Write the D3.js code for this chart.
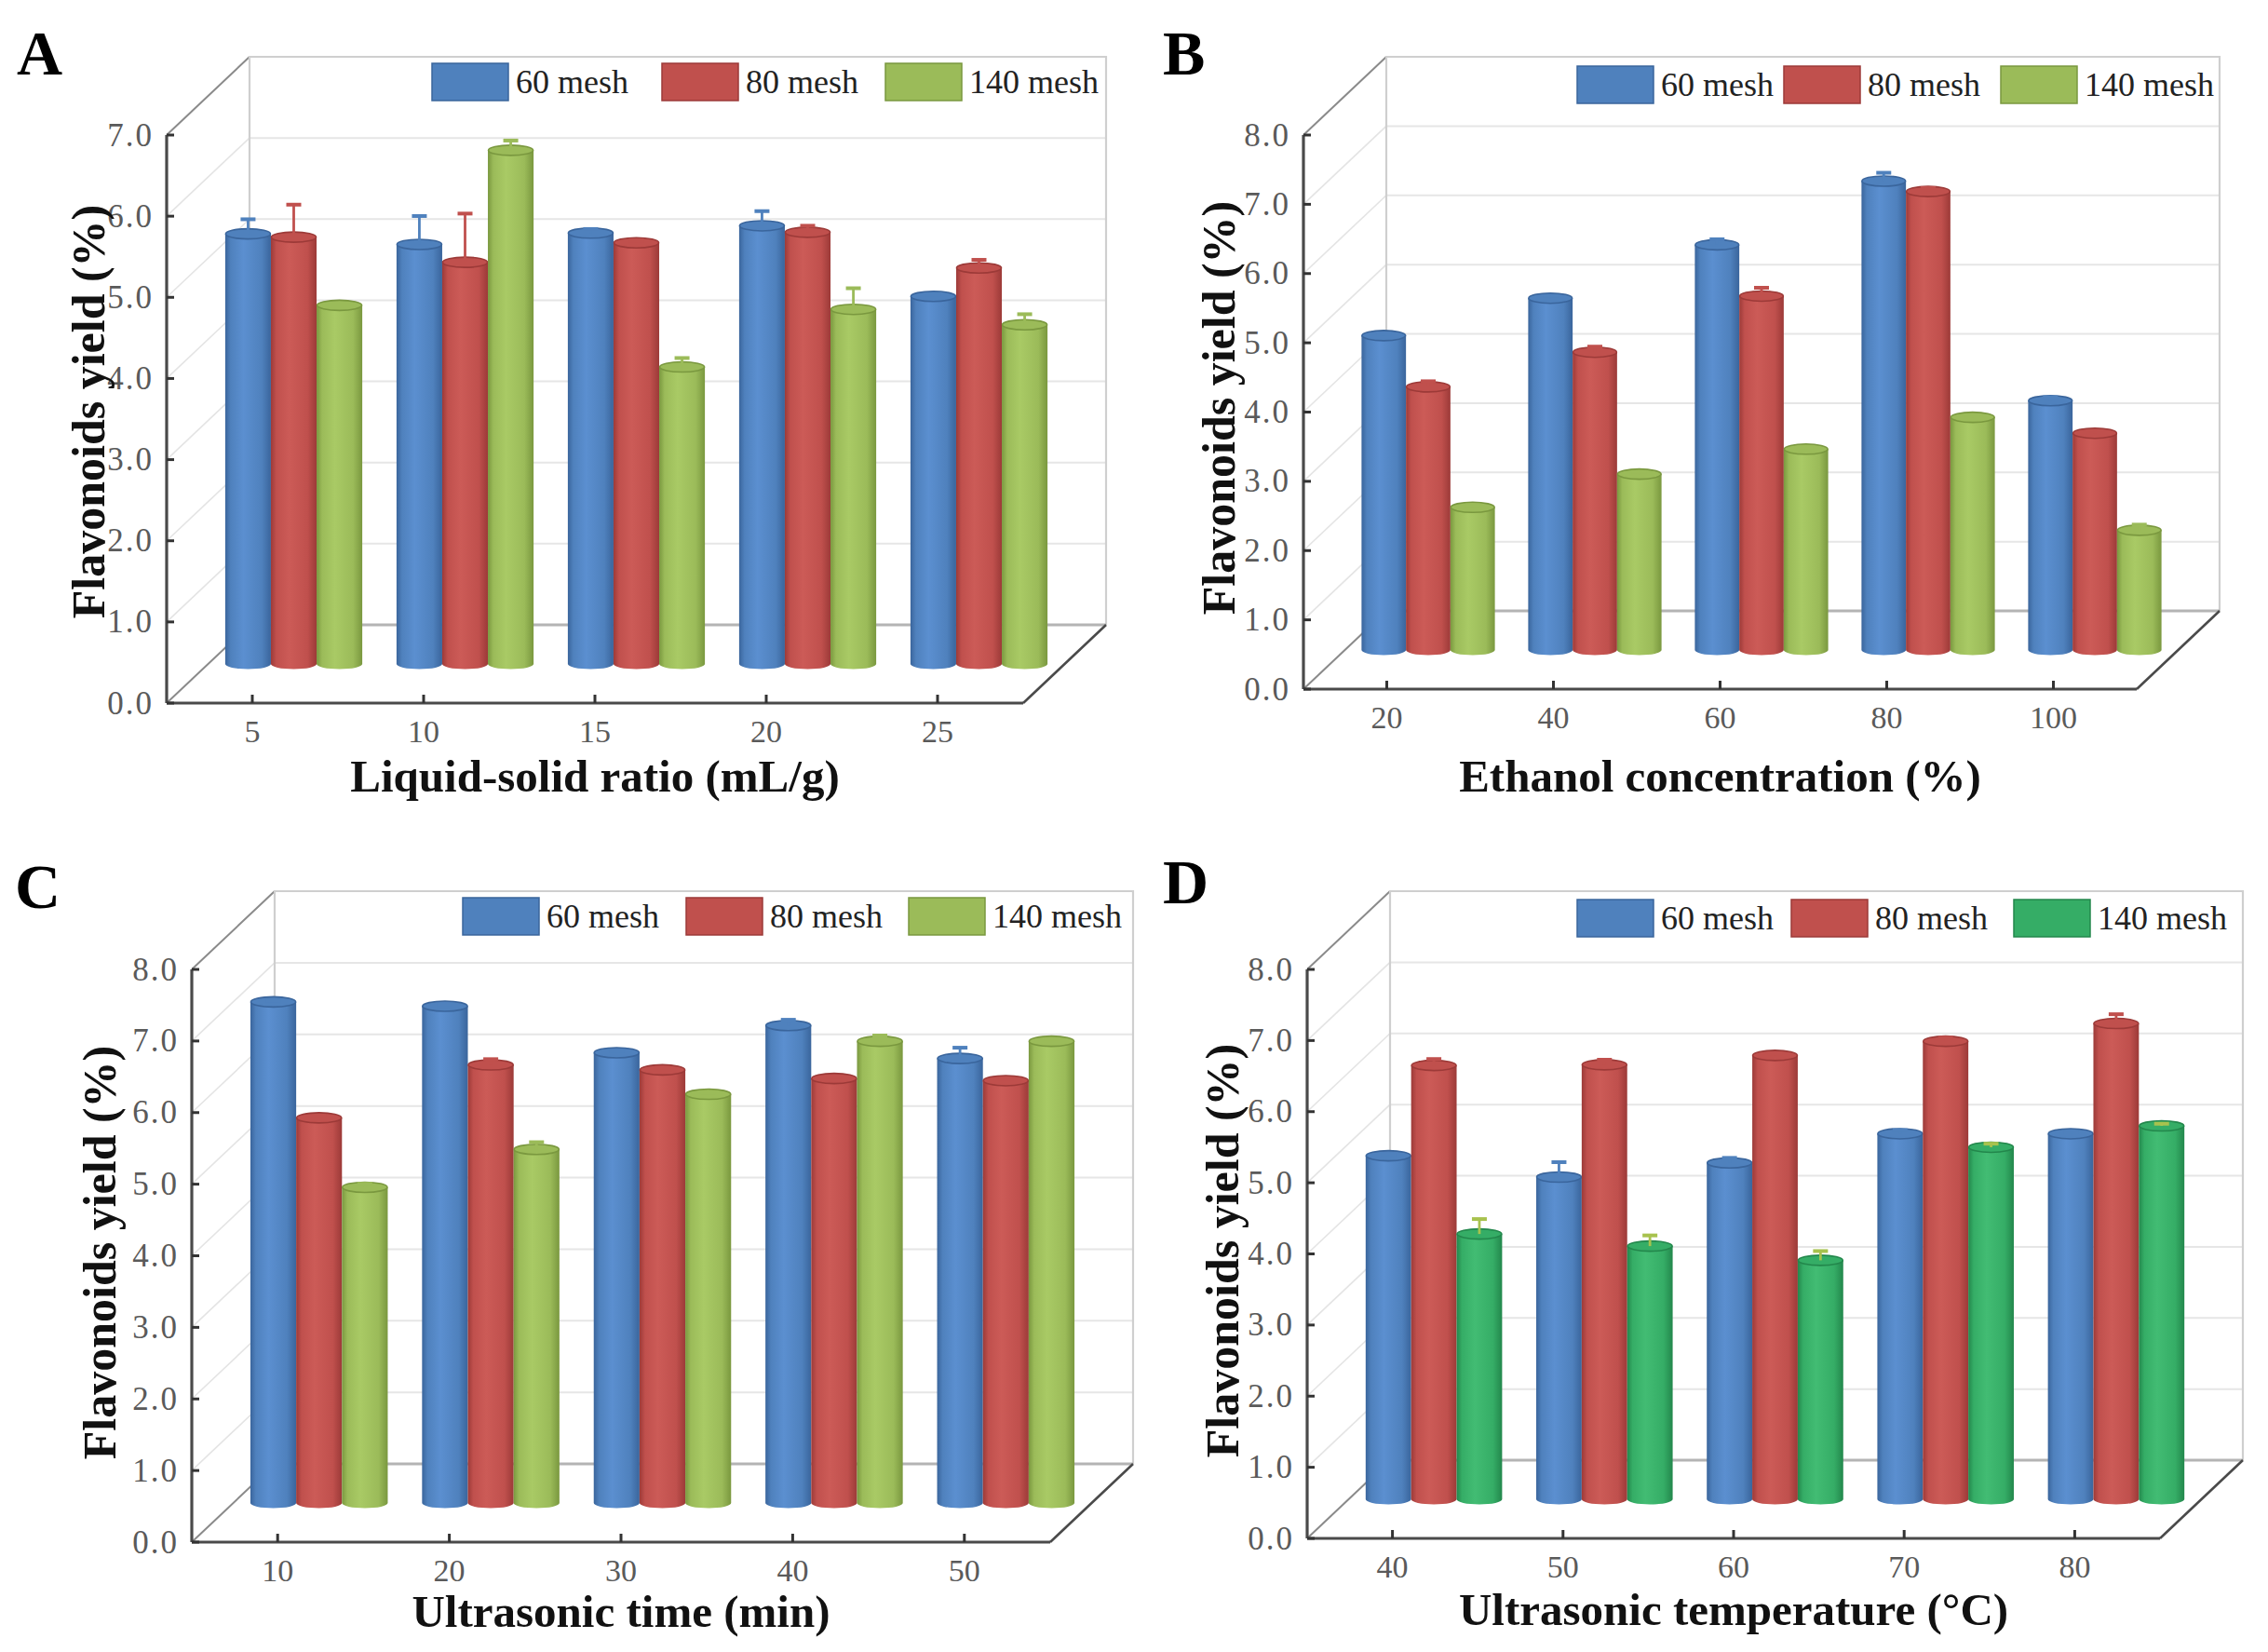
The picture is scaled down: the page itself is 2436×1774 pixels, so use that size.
<!DOCTYPE html>
<html>
<head>
<meta charset="utf-8">
<script src="https://cdn.jsdelivr.net/npm/d3@7"></script>
<style>
  body { margin: 0; background: #fff; }
  svg text { font-family: "Liberation Serif", "Times New Roman", serif; }
</style>
</head>
<body>
<svg id="chart" width="2436" height="1774"></svg>
<script>
// series names (same in every panel)
const meshNames = ["60 mesh", "80 mesh", "140 mesh"];

// A - liquid-solid ratio
const ratioLabels = ["5", "10", "15", "20", "25"];
const ratio60 = [5.30, 5.17, 5.31, 5.40, 4.53];
const ratio80 = [5.26, 4.95, 5.19, 5.32, 4.88];
const ratio140 = [4.42, 6.33, 3.66, 4.37, 4.18];
const ratioErr60 = [0.18, 0.35, 0.05, 0.18, 0.02];
const ratioErr80 = [0.40, 0.60, 0.03, 0.08, 0.10];
const ratioErr140 = [0.00, 0.12, 0.11, 0.26, 0.13];

// B - ethanol concentration
const ethanolLabels = ["20", "40", "60", "80", "100"];
const ethanol60 = [4.54, 5.08, 5.85, 6.77, 3.60];
const ethanol80 = [3.80, 4.30, 5.11, 6.62, 3.13];
const ethanol140 = [2.06, 2.54, 2.90, 3.36, 1.73];
const ethanolErr60 = [0.03, 0.03, 0.08, 0.12, 0.05];
const ethanolErr80 = [0.08, 0.08, 0.12, 0.05, 0.03];
const ethanolErr140 = [0.03, 0.03, 0.03, 0.03, 0.08];

// C - ultrasonic time
const timeLabels = ["10", "20", "30", "40", "50"];
const time60 = [7.00, 6.94, 6.29, 6.67, 6.21];
const time80 = [5.38, 6.12, 6.05, 5.93, 5.90];
const time140 = [4.41, 4.94, 5.71, 6.45, 6.45];
const timeErr60 = [0.02, 0.02, 0.02, 0.08, 0.15];
const timeErr80 = [0.02, 0.08, 0.03, 0.02, 0.02];
const timeErr140 = [0.05, 0.10, 0.02, 0.08, 0.03];

// D - ultrasonic temperature
const tempLabels = ["40", "50", "60", "70", "80"];
const temp60 = [4.83, 4.53, 4.73, 5.14, 5.14];
const temp80 = [6.10, 6.11, 6.24, 6.44, 6.69];
const temp140 = [3.73, 3.56, 3.36, 4.95, 5.25];
const tempErr60 = [0.02, 0.21, 0.07, 0.05, 0.02];
const tempErr80 = [0.09, 0.07, 0.03, 0.05, 0.13];
const tempErr140 = [0.21, 0.15, 0.13, 0.05, 0.03];

// colour sets: [dark edge, base, light centre]
const blueSet = ["#3a659c", "#4f81bd", "#5b8fd0"];
const redSet = ["#9c3a38", "#c0504d", "#cc5b57"];
const limeSet = ["#7a983f", "#9bbb59", "#a9ca65"];
const greenSet = ["#23874c", "#35ad66", "#42bc73"];

const svg = d3.select("#chart");
const defs = svg.append("defs");

function makeGradient(id, set)
{
    const g = defs.append("linearGradient")
        .attr("id", id)
        .attr("x1", "0%").attr("x2", "100%")
        .attr("y1", "0%").attr("y2", "0%");
    g.append("stop").attr("offset", "0%").attr("stop-color", set[0]);
    g.append("stop").attr("offset", "12%").attr("stop-color", set[1]);
    g.append("stop").attr("offset", "40%").attr("stop-color", set[2]);
    g.append("stop").attr("offset", "80%").attr("stop-color", set[1]);
    g.append("stop").attr("offset", "100%").attr("stop-color", set[0]);
}
makeGradient("g-blue", blueSet);
makeGradient("g-red", redSet);
makeGradient("g-lime", limeSet);
makeGradient("g-green", greenSet);

const panels = [
    {
        letter: "A", ox: 0, oy: 0, lx: 18, ly: 80,
        labels: ratioLabels, values: [ratio60, ratio80, ratio140], errs: [ratioErr60, ratioErr80, ratioErr140],
        grads: ["g-blue", "g-red", "g-lime"], sets: [blueSet, redSet, limeSet], errColors: ["#4f81bd", "#c0504d", "#9bbb59"],
        yMax: 7, axisX: 179, y0: 755, yTop: 145, width: 920,
        legendX: [464, 711, 951], legendY: 68,
        yTitleX: 112, yTitleY: 442, xTitleY: 850,
        xTitle: "Liquid-solid ratio (mL/g)"
    },
    {
        letter: "B", ox: 1218, oy: 0, lx: 31, ly: 80,
        labels: ethanolLabels, values: [ethanol60, ethanol80, ethanol140], errs: [ethanolErr60, ethanolErr80, ethanolErr140],
        grads: ["g-blue", "g-red", "g-lime"], sets: [blueSet, redSet, limeSet], errColors: ["#4f81bd", "#c0504d", "#9bbb59"],
        yMax: 8, axisX: 182, y0: 740, yTop: 145, width: 895,
        legendX: [476, 698, 931], legendY: 71,
        yTitleX: 108, yTitleY: 438, xTitleY: 850,
        xTitle: "Ethanol concentration (%)"
    },
    {
        letter: "C", ox: 0, oy: 887, lx: 16, ly: 88,
        labels: timeLabels, values: [time60, time80, time140], errs: [timeErr60, timeErr80, timeErr140],
        grads: ["g-blue", "g-red", "g-lime"], sets: [blueSet, redSet, limeSet], errColors: ["#4f81bd", "#c0504d", "#9bbb59"],
        yMax: 8, axisX: 206, y0: 769, yTop: 154, width: 922,
        legendX: [497, 737, 976], legendY: 77,
        yTitleX: 124, yTitleY: 458, xTitleY: 860,
        xTitle: "Ultrasonic time (min)"
    },
    {
        letter: "D", ox: 1218, oy: 887, lx: 31, ly: 83,
        labels: tempLabels, values: [temp60, temp80, temp140], errs: [tempErr60, tempErr80, tempErr140],
        grads: ["g-blue", "g-red", "g-green"], sets: [blueSet, redSet, greenSet], errColors: ["#4f81bd", "#c0504d", "#a8c24e"],
        yMax: 8, axisX: 186, y0: 765, yTop: 154, width: 916,
        legendX: [476, 706, 945], legendY: 79,
        yTitleX: 112, yTitleY: 456, xTitleY: 858,
        xTitle: "Ultrasonic temperature (\u00b0C)"
    }
];

// depth offset of the back wall
const depthX = 89;
const depthY = -84;
const capRy = 5.5;

function drawPanel(p)
{
    const g = svg.append("g").attr("transform", `translate(${p.ox},${p.oy})`);

    const y = d3.scaleLinear().domain([0, p.yMax]).range([p.y0, p.yTop]);
    const x = d3.scaleBand().domain(p.labels)
        .range([p.axisX, p.axisX + p.width])
        .paddingInner(0.2).paddingOuter(0.1);
    const xSub = d3.scaleBand().domain(meshNames).range([0, x.bandwidth()]);

    const left = p.axisX, right = p.axisX + p.width;
    const ticks = d3.range(0, p.yMax + 1);

    // side wall grid (diagonals)
    g.selectAll(".side-grid").data(ticks).join("line")
        .attr("x1", left).attr("y1", d => y(d))
        .attr("x2", left + depthX).attr("y2", d => y(d) + depthY)
        .attr("stroke", d => (d === 0 || d === p.yMax) ? "#8a8a8a" : "#e4e4e4")
        .attr("stroke-width", d => (d === 0 || d === p.yMax) ? 2 : 1.6);

    // back wall grid
    g.selectAll(".back-grid").data(ticks.filter(d => d > 0 && d < p.yMax)).join("line")
        .attr("x1", left + depthX).attr("x2", right + depthX)
        .attr("y1", d => y(d) + depthY).attr("y2", d => y(d) + depthY)
        .attr("stroke", "#e6e6e6").attr("stroke-width", 2);

    // back wall frame
    g.append("path")
        .attr("d", `M${left + depthX},${y(0) + depthY}V${y(p.yMax) + depthY}H${right + depthX}V${y(0) + depthY}`)
        .attr("fill", "none").attr("stroke", "#cfcfcf").attr("stroke-width", 2.2);

    // back floor line
    g.append("line")
        .attr("x1", left + depthX).attr("x2", right + depthX)
        .attr("y1", y(0) + depthY).attr("y2", y(0) + depthY)
        .attr("stroke", "#b4b4b4").attr("stroke-width", 3);

    // right floor diagonal
    g.append("line")
        .attr("x1", right).attr("y1", y(0))
        .attr("x2", right + depthX).attr("y2", y(0) + depthY)
        .attr("stroke", "#4a4a4a").attr("stroke-width", 2.6);

    // bars
    const bw = xSub.bandwidth();
    const rx = bw / 2;
    p.labels.forEach((lab, i) => {
        meshNames.forEach((name, j) => {
            const v = p.values[j][i];
            const e = p.errs[j][i];
            const x0 = x(lab) + xSub(name) + depthX / 2;
            const cx = x0 + rx;
            const base = y(0) + depthY / 2;
            const top = y(v) + depthY / 2;
            const set = p.sets[j];

            g.append("path")
                .attr("d", `M${x0},${top}L${x0},${base}A${rx},${capRy} 0 0 0 ${x0 + bw},${base}L${x0 + bw},${top}Z`)
                .attr("fill", `url(#${p.grads[j]})`);

            g.append("ellipse")
                .attr("cx", cx).attr("cy", top)
                .attr("rx", rx - 0.5).attr("ry", capRy)
                .attr("fill", set[1])
                .attr("stroke", set[0]).attr("stroke-width", 1.6);

            if (e > 0)
            {
                const ye = y(v + e) + depthY / 2;
                g.append("line")
                    .attr("x1", cx).attr("x2", cx)
                    .attr("y1", top).attr("y2", ye)
                    .attr("stroke", p.errColors[j]).attr("stroke-width", 2.8);
                g.append("line")
                    .attr("x1", cx - 8).attr("x2", cx + 8)
                    .attr("y1", ye).attr("y2", ye)
                    .attr("stroke", p.errColors[j]).attr("stroke-width", 4);
            }
        });
    });

    // front axes
    g.append("line")
        .attr("x1", left).attr("x2", right)
        .attr("y1", y(0)).attr("y2", y(0))
        .attr("stroke", "#4a4a4a").attr("stroke-width", 3.2);
    g.append("line")
        .attr("x1", left).attr("x2", left)
        .attr("y1", y(0)).attr("y2", y(p.yMax))
        .attr("stroke", "#4a4a4a").attr("stroke-width", 3.2);

    // y ticks and labels
    g.selectAll(".ytick").data(ticks).join("line")
        .attr("x1", left).attr("x2", left + 8)
        .attr("y1", d => y(d)).attr("y2", d => y(d))
        .attr("stroke", "#333").attr("stroke-width", 3);
    g.selectAll(".ylab").data(ticks).join("text")
        .attr("x", left - 14).attr("y", d => y(d))
        .attr("text-anchor", "end").attr("dominant-baseline", "central")
        .attr("font-size", 35).attr("fill", "#5a5a5a")
        .attr("letter-spacing", 2)
        .text(d3.format(".1f"));

    // x ticks and labels
    g.selectAll(".xtick").data(p.labels).join("line")
        .attr("x1", d => x(d) + x.bandwidth() / 2).attr("x2", d => x(d) + x.bandwidth() / 2)
        .attr("y1", y(0)).attr("y2", y(0) - 9)
        .attr("stroke", "#333").attr("stroke-width", 3);
    g.selectAll(".xlab").data(p.labels).join("text")
        .attr("x", d => x(d) + x.bandwidth() / 2).attr("y", y(0) + 42)
        .attr("text-anchor", "middle")
        .attr("font-size", 34).attr("fill", "#5a5a5a")
        .text(d => d);

    // axis titles
    g.append("text")
        .attr("x", left + p.width / 2).attr("y", p.xTitleY)
        .attr("text-anchor", "middle")
        .attr("font-size", 49).attr("font-weight", "bold").attr("fill", "#111")
        .text(p.xTitle);
    g.append("text")
        .attr("transform", `translate(${p.yTitleX},${p.yTitleY}) rotate(-90)`)
        .attr("text-anchor", "middle")
        .attr("font-size", 50).attr("font-weight", "bold").attr("fill", "#111")
        .text("Flavonoids yield (%)");

    // panel letter
    g.append("text")
        .attr("x", p.lx).attr("y", p.ly)
        .attr("font-size", 68).attr("font-weight", "bold").attr("fill", "#000")
        .text(p.letter);

    // legend
    meshNames.forEach((name, j) => {
        g.append("rect")
            .attr("x", p.legendX[j]).attr("y", p.legendY)
            .attr("width", 82).attr("height", 40)
            .attr("fill", p.sets[j][1])
            .attr("stroke", p.sets[j][0]).attr("stroke-width", 1.5);
        g.append("text")
            .attr("x", p.legendX[j] + 90).attr("y", p.legendY + 20)
            .attr("dominant-baseline", "central")
            .attr("font-size", 36).attr("fill", "#222")
            .text(name);
    });
}

panels.forEach(drawPanel);
</script>
</body>
</html>
